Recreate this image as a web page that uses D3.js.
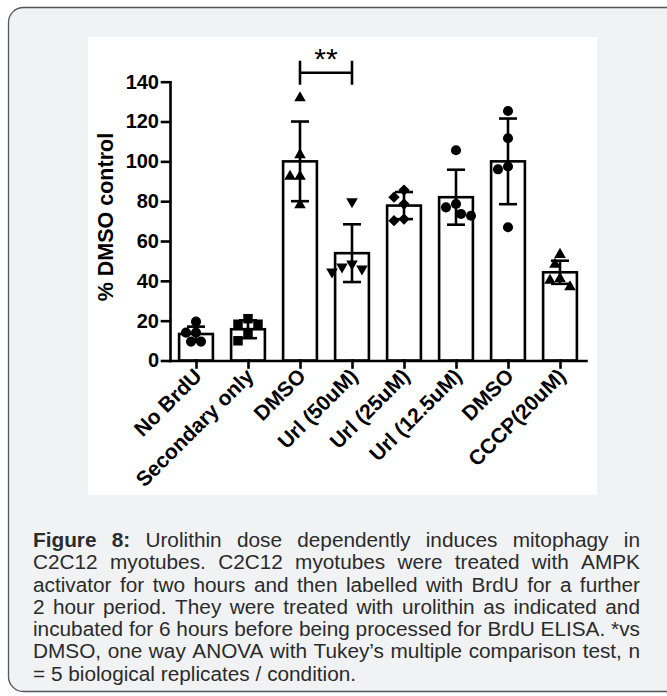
<!DOCTYPE html>
<html>
<head>
<meta charset="utf-8">
<script src="https://cdn.jsdelivr.net/npm/d3@7"></script>
<style>
  body { margin: 0; background: #fff; }
  svg { display: block; font-family: 'Liberation Sans', Arial, sans-serif; }
</style>
</head>
<body>
<div id="chart"></div>
<script>
// values
var categories = ['No BrdU', 'Secondary only', 'DMSO', 'Url (50uM)', 'Url (25uM)', 'Url (12.5uM)', 'DMSO', 'CCCP(20uM)']
var means = [13.3, 15.7, 100, 53.9, 77.8, 82, 100, 44.3]
var sds = [3.7, 4.5, 20, 14.5, 6.8, 13.8, 21.5, 5.8]

// individual replicates (n = 5 each)
var noBrdU = [19.5, 14, 14, 9.5, 9.5]
var secondaryOnly = [21, 18.2, 18.2, 14, 9.9]
var dmsoA = [131.8, 103.3, 92.4, 92.4, 78.1]
var url50 = [79.8, 48.5, 47, 46, 44.5]
var url25 = [85.6, 82, 78.6, 71, 70.2]
var url125 = [105.6, 78.6, 76.9, 73.6, 72.7]
var dmsoB = [125.3, 111.6, 97.4, 96, 66.9]
var cccp = [53.2, 48.2, 41.1, 40.2, 36.9]
var replicates = [noBrdU, secondaryOnly, dmsoA, url50, url25, url125, dmsoB, cccp]

var yTicks = [0, 20, 40, 60, 80, 100, 120, 140]

// ** between DMSO and Url (50uM)
var sigPair = [2, 3]
var sigLevel = 144.5
var sigLabel = '**'

var captionLines = [
  [['Figure', true], ['8:', true], 'Urolithin', 'dose', 'dependently', 'induces', 'mitophagy', 'in'],
  ['C2C12', 'myotubes.', 'C2C12', 'myotubes', 'were', 'treated', 'with', 'AMPK'],
  ['activator', 'for', 'two', 'hours', 'and', 'then', 'labelled', 'with', 'BrdU', 'for', 'a', 'further'],
  ['2', 'hour', 'period.', 'They', 'were', 'treated', 'with', 'urolithin', 'as', 'indicated', 'and'],
  ['incubated', 'for', '6', 'hours', 'before', 'being', 'processed', 'for', 'BrdU', 'ELISA.', '*vs'],
  ['DMSO,', 'one', 'way', 'ANOVA', 'with', 'Tukey\u2019s', 'multiple', 'comparison', 'test,', 'n'],
  ['=', '5', 'biological', 'replicates', '/', 'condition.']
]

// marker per group, like the prism defaults
var markers = ['circle', 'square', 'triangle', 'triangleDown', 'diamond', 'circle', 'circle', 'triangle']

var W = 667
var H = 696

var svg = d3
  .select('#chart')
  .append('svg')
  .attr('width', W)
  .attr('height', H)

// grey card with rounded border, white plot panel
svg
  .append('rect')
  .attr('x', 8.5)
  .attr('y', 7.5)
  .attr('width', 690)
  .attr('height', 684)
  .attr('rx', 15)
  .attr('fill', '#f1f2f4')
  .attr('stroke', '#555')
  .attr('stroke-width', 1.3)

svg
  .append('rect')
  .attr('x', 88)
  .attr('y', 37)
  .attr('width', 509)
  .attr('height', 458)
  .attr('fill', '#fff')

// scales
var xPositionScale = d3
  .scalePoint()
  .domain(d3.range(categories.length))
  .range([170, 586])
  .padding(0.5)

var yPositionScale = d3
  .scaleLinear()
  .domain([0, 140])
  .range([360.5, 81.7])

var barWidth = xPositionScale.step() * 0.65
var lineW = 2.6

var plot = svg.append('g')

// bars
plot
  .selectAll('.bar')
  .data(means)
  .enter()
  .append('rect')
  .attr('class', 'bar')
  .attr('x', (d, i) => xPositionScale(i) - barWidth / 2)
  .attr('y', d => yPositionScale(d))
  .attr('width', barWidth)
  .attr('height', d => yPositionScale(0) - yPositionScale(d))
  .attr('fill', '#fff')
  .attr('stroke', '#000')
  .attr('stroke-width', lineW)

// error bars (mean +/- SD)
var capW = 18
var err = plot
  .selectAll('.err')
  .data(means)
  .enter()
  .append('g')
  .attr('class', 'err')
  .attr('stroke', '#000')
  .attr('stroke-width', lineW)

err
  .append('line')
  .attr('x1', (d, i) => xPositionScale(i))
  .attr('x2', (d, i) => xPositionScale(i))
  .attr('y1', (d, i) => yPositionScale(d + sds[i]))
  .attr('y2', (d, i) => yPositionScale(d - sds[i]))

err
  .append('line')
  .attr('x1', (d, i) => xPositionScale(i) - capW / 2)
  .attr('x2', (d, i) => xPositionScale(i) + capW / 2)
  .attr('y1', (d, i) => yPositionScale(d + sds[i]))
  .attr('y2', (d, i) => yPositionScale(d + sds[i]))

err
  .append('line')
  .attr('x1', (d, i) => xPositionScale(i) - capW / 2)
  .attr('x2', (d, i) => xPositionScale(i) + capW / 2)
  .attr('y1', (d, i) => yPositionScale(d - sds[i]))
  .attr('y2', (d, i) => yPositionScale(d - sds[i]))

// spread points sideways so they don't sit on top of each other
var markerGap = 10
var swarmStep = 5
function swarm(values, cx) {
  var placed = []
  var order = values.map((v, i) => i).sort((a, b) => values[b] - values[a])
  order.forEach(function(i) {
    var py = yPositionScale(values[i])
    var dx = 0
    for (var k = 0; k < 30; k++) {
      dx = k === 0 ? 0 : Math.ceil(k / 2) * swarmStep * (k % 2 ? -1 : 1)
      var ok = placed.every(p => Math.hypot(p.dx - dx, p.y - py) >= markerGap)
      if (ok) break
    }
    placed.push({ dx: dx, y: py, x: cx + dx, v: values[i] })
  })
  return placed
}

var symbols = {
  circle: d3.symbol().type(d3.symbolCircle).size(80),
  square: d3.symbol().type(d3.symbolSquare).size(90),
  triangle: d3.symbol().type(d3.symbolTriangle).size(58),
  triangleDown: d3.symbol().type(d3.symbolTriangle).size(58),
  diamond: d3.symbol().type(d3.symbolSquare).size(64)
}
var rotation = { circle: 0, square: 0, triangle: 0, triangleDown: 180, diamond: 45 }

replicates.forEach(function(vals, i) {
  var pts = swarm(vals, xPositionScale(i))
  var m = markers[i]
  plot
    .append('g')
    .selectAll('path')
    .data(pts)
    .enter()
    .append('path')
    .attr('d', symbols[m]())
    .attr('transform', d => `translate(${d.x},${d.y}) rotate(${rotation[m]})`)
    .attr('fill', '#000')
})

// axes
var yAxis = d3
  .axisLeft(yPositionScale)
  .tickValues(yTicks)
  .tickSize(8)
  .tickSizeOuter(0)
  .tickPadding(3)

svg
  .append('g')
  .attr('class', 'axis y-axis')
  .attr('transform', 'translate(170,0)')
  .call(yAxis)

var xAxis = d3
  .axisBottom(xPositionScale)
  .tickSize(7)
  .tickSizeOuter(0)
  .tickFormat('')

svg
  .append('g')
  .attr('class', 'axis x-axis')
  .attr('transform', 'translate(0,' + yPositionScale(0) + ')')
  .call(xAxis)

svg.selectAll('.axis path, .axis line')
  .attr('stroke', '#000')
  .attr('stroke-width', lineW)
  .attr('stroke-linecap', 'square')

svg.selectAll('.y-axis text')
  .attr('fill', '#000')
  .style('font-size', '20px')
  .style('font-weight', 'bold')

// slanted category labels
svg
  .append('g')
  .selectAll('text')
  .data(categories)
  .enter()
  .append('text')
  .attr('transform', (d, i) => `translate(${xPositionScale(i) + 7},${yPositionScale(0) + 17}) rotate(-45)`)
  .attr('text-anchor', 'end')
  .style('font-size', '21px')
  .style('font-weight', 'bold')
  .text(d => d)

// y title
svg
  .append('text')
  .attr('transform', `translate(113,${(yPositionScale(0) + yPositionScale(140)) / 2 - 4}) rotate(-90)`)
  .attr('text-anchor', 'middle')
  .style('font-size', '21.5px')
  .style('font-weight', 'bold')
  .text('% DMSO control')

// significance bracket
var sx1 = xPositionScale(sigPair[0])
var sx2 = xPositionScale(sigPair[1])
var sy = yPositionScale(sigLevel)
var sig = svg.append('g').attr('stroke', '#000').attr('stroke-width', lineW)
sig.append('line').attr('x1', sx1).attr('x2', sx2).attr('y1', sy).attr('y2', sy)
sig.append('line').attr('x1', sx1).attr('x2', sx1).attr('y1', sy - 12).attr('y2', sy + 12)
sig.append('line').attr('x1', sx2).attr('x2', sx2).attr('y1', sy - 12).attr('y2', sy + 12)

svg
  .append('text')
  .attr('x', (sx1 + sx2) / 2)
  .attr('y', sy - 4)
  .attr('text-anchor', 'middle')
  .style('font-size', '30px')
  .text(sigLabel)

// caption, justified word by word
var capLeft = 33
var capWidth = 607
var capFont = 21
var capTop = 547
var capLead = 22.3

var cap = svg.append('g').attr('fill', '#2b2b2b').style('font-size', capFont + 'px')

var lineGroups = captionLines.map(function(words, li) {
  var g = cap.append('g')
  var items = words.map(function(w) {
    var bold = Array.isArray(w)
    var t = g
      .append('text')
      .attr('y', capTop + li * capLead)
      .style('font-weight', bold ? 'bold' : null)
      .text(bold ? w[0] : w)
    return { node: t, w: t.node().getComputedTextLength() }
  })
  return { g: g, items: items }
})

// squeeze a little if the widest line would not fit
var spaceW = 0.278 * capFont
var widest = d3.max(lineGroups.slice(0, -1), l => d3.sum(l.items, d => d.w) + spaceW * (l.items.length - 1))
var k = Math.min(1, capWidth / widest)
var target = capWidth / k

lineGroups.forEach(function(l, li) {
  var total = d3.sum(l.items, d => d.w)
  var last = li === lineGroups.length - 1
  var gap = last ? spaceW : (target - total) / (l.items.length - 1)
  var x = 0
  l.items.forEach(function(d) {
    d.node.attr('x', x)
    x += d.w + gap
  })
  l.g.attr('transform', `translate(${capLeft},0) scale(${k},1)`)
})
</script>
</body>
</html>
